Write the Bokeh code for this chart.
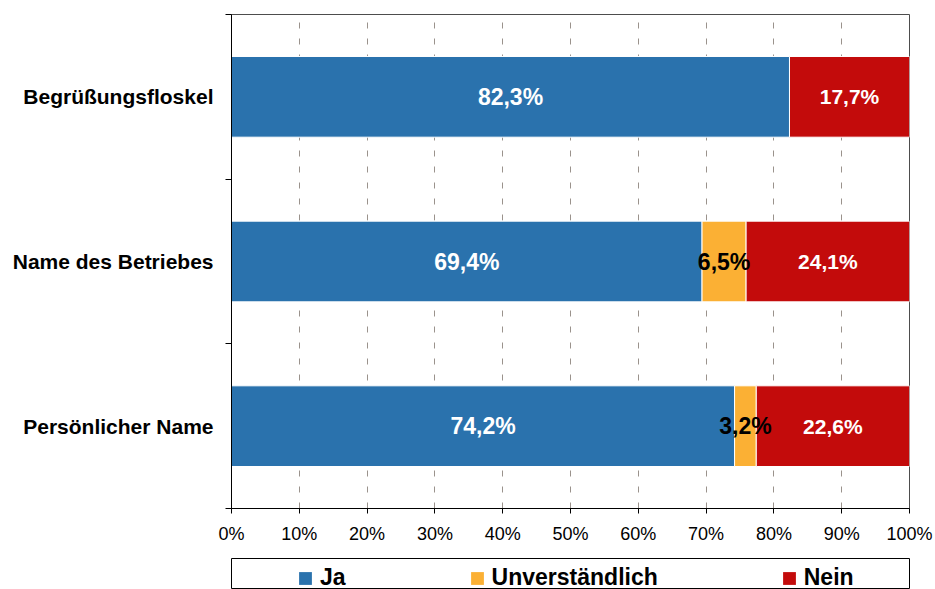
from bokeh.plotting import figure
from bokeh.models import ColumnDataSource, Range1d, FixedTicker, Legend, LegendItem
from bokeh.layouts import column
from bokeh.embed import file_html
from bokeh.resources import INLINE
from bokeh.core.properties import value

# ---- data ----
categories = ["Begrüßungsfloskel", "Name des Betriebes", "Persönlicher Name"]
series_names = ["Ja", "Unverständlich", "Nein"]
ja = [82.3, 69.4, 74.2]
unverstaendlich = [0.0, 6.5, 3.2]
nein = [17.7, 24.1, 22.6]
x_ticks = [0, 10, 20, 30, 40, 50, 60, 70, 80, 90, 100]
x_tick_labels = ["0%", "10%", "20%", "30%", "40%", "50%", "60%", "70%", "80%", "90%", "100%"]

# ---- styles ----
colors = ["#2A72AD", "#FBB034", "#C30B0B"]
label_colors = ["white", "black", "white"]
label_sizes = ["23px", "23px", "21px"]
FONT = "Liberation Sans"

n = len(categories)
ys = [n - i - 0.5 for i in range(n)]
keys = ["ja", "unv", "nein"]
series = [ja, unverstaendlich, nein]

src = ColumnDataSource(dict(y=ys, cat=categories, ja=ja, unv=unverstaendlich, nein=nein))

p = figure(width=935, height=558, x_range=Range1d(0, 100), y_range=Range1d(0, n),
           output_backend="svg", toolbar_location=None,
           min_border_left=231, min_border_right=26, min_border_top=14, min_border_bottom=50)
p.background_fill_color = "white"
p.border_fill_color = "white"
p.outline_line_color = "#4d4d4d"
p.outline_line_width = 1

# grid
p.ygrid.visible = False
p.xgrid.ticker = FixedTicker(ticks=x_ticks)
p.xgrid.grid_line_color = "#9a928c"
p.xgrid.grid_line_dash = "6 10"
p.xgrid.grid_line_width = 1

# x axis
xa = p.xaxis[0]
xa.ticker = FixedTicker(ticks=x_ticks)
xa.major_label_overrides = {t: l for t, l in zip(x_ticks, x_tick_labels)}
xa.major_label_text_font = FONT
xa.major_label_text_font_size = "18px"
xa.major_label_text_color = "black"
xa.major_label_standoff = 10
xa.major_tick_out = 5
xa.major_tick_in = 0
xa.minor_tick_out = 0
xa.minor_tick_in = 0
xa.axis_line_color = "black"
xa.major_tick_line_color = "black"

# y axis
ya = p.yaxis[0]
ya.ticker = FixedTicker(ticks=ys, minor_ticks=list(range(n + 1)))
ya.major_label_overrides = {y: c for y, c in zip(ys, categories)}
ya.major_label_text_font = FONT
ya.major_label_text_font_style = "bold"
ya.major_label_text_font_size = "21px"
ya.major_label_text_color = "black"
ya.major_label_standoff = 12
ya.major_tick_out = 0
ya.major_tick_in = 0
ya.minor_tick_out = 6
ya.minor_tick_in = 0
ya.minor_tick_line_color = "black"
ya.axis_line_color = "black"

# bars
p.hbar_stack(keys, y="y", height=0.49, color=colors, source=src,
             line_color="white", line_width=1)

# value labels
cum = [0.0] * n
for k, vals, lc, ls in zip(keys, series, label_colors, label_sizes):
    xs, yy, tx = [], [], []
    for i, v in enumerate(vals):
        if v > 0:
            xs.append(cum[i] + v / 2)
            yy.append(ys[i])
            tx.append(f"{v:.1f}".replace(".", ",") + "%")
        cum[i] += v
    p.text(x=xs, y=yy, text=tx, text_align="center", text_baseline="middle",
           text_color=lc, text_font=value(FONT), text_font_style="bold",
           text_font_size=ls)

# legend figure (its frame outline is the legend box)
p2 = figure(width=935, height=31, x_range=Range1d(0, 1), y_range=Range1d(0, 1),
            output_backend="svg", toolbar_location=None,
            min_border_left=231, min_border_right=26, min_border_top=0, min_border_bottom=0,
            x_axis_location=None, y_axis_location=None)
p2.outline_line_color = "black"
p2.outline_line_width = 1
p2.xgrid.visible = False
p2.ygrid.visible = False
p2.background_fill_color = "white"
p2.border_fill_color = "white"

items = []
for name, c in zip(series_names, colors):
    # legend swatch renderers: placed outside the visible range
    r = p2.hbar(y=[-10], right=[-10], height=0.5, fill_color=c, line_color=None)
    items.append(LegendItem(label=name, renderers=[r]))

legend = Legend(items=items, orientation="horizontal", location=(66, -2),
                padding=0, margin=0, spacing=123, glyph_width=16, glyph_height=16,
                label_standoff=7, label_text_font=FONT, label_text_font_style="bold",
                label_text_font_size="23px", label_text_color="black",
                border_line_alpha=0, background_fill_alpha=0)
p2.add_layout(legend)

layout = column(p, p2, spacing=0)
open("out.html", "w").write(file_html(layout, INLINE))
